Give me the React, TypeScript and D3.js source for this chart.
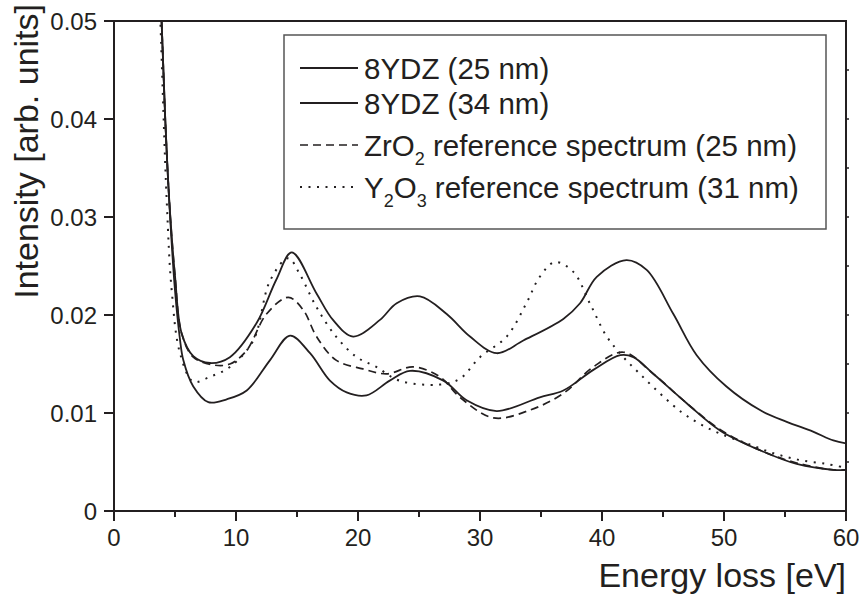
import React from "react";
import * as d3 from "d3";

// ---- Data ----
const energyA = [3.6, 3.9, 4.2, 4.53, 5.0, 5.55, 6.5, 7.87, 9.5, 11.7, 13.3, 14.57, 16.6, 17.95, 19.6, 21.8, 23.17, 25.08, 27.27, 29.18, 31.37, 33.55, 36.83, 38.2, 39.57, 42.0, 43.66, 45.85, 47.76, 50.2, 52.95, 55.14, 57.3, 58.96, 60];
const ydz34 = [0.058, 0.05, 0.04, 0.0317, 0.024, 0.0181, 0.0158, 0.0151, 0.0157, 0.0192, 0.0236, 0.0264, 0.0222, 0.0195, 0.0178, 0.0195, 0.0212, 0.0219, 0.0201, 0.0178, 0.0161, 0.0174, 0.0196, 0.0212, 0.0239, 0.0256, 0.0246, 0.0201, 0.0159, 0.0127, 0.0103, 0.0091, 0.0081, 0.0072, 0.0069];

const energyB = [3.6, 3.9, 4.2, 4.53, 5.0, 5.4, 5.68, 6.5, 7.73, 9.24, 10.88, 12.79, 14.43, 16.07, 17.7, 19.07, 20.7, 22.6, 24.26, 27.0, 28.9, 31.37, 34.9, 36.83, 39.29, 41.5, 42.57, 44.2, 46.94, 49.7, 52.95, 55.96, 58.96, 60];
const ydz25 = [0.058, 0.05, 0.04, 0.0315, 0.0225, 0.0176, 0.0154, 0.0127, 0.0111, 0.0114, 0.0123, 0.0154, 0.0179, 0.0161, 0.0133, 0.0121, 0.0118, 0.0133, 0.0143, 0.0133, 0.0113, 0.0102, 0.0116, 0.0123, 0.0144, 0.0159, 0.0157, 0.014, 0.011, 0.0082, 0.0062, 0.0048, 0.0042, 0.0042];

const energyZr = [3.6, 3.9, 4.2, 4.53, 5.0, 5.55, 6.5, 8.14, 9.5, 10.88, 12.5, 14.29, 15.52, 16.6, 18.2, 20.4, 22.35, 24.53, 26.7, 28.36, 31.1, 34.1, 36.83, 39.29, 41.75, 44.2, 46.94, 49.7, 52.95, 55.96, 58.96, 60];
const zro2 = [0.058, 0.05, 0.04, 0.0317, 0.024, 0.0181, 0.0157, 0.0149, 0.015, 0.0164, 0.0201, 0.0218, 0.0205, 0.0178, 0.0154, 0.0145, 0.014, 0.0147, 0.0137, 0.0116, 0.0095, 0.0103, 0.012, 0.0147, 0.0162, 0.014, 0.011, 0.0083, 0.0062, 0.0049, 0.0042, 0.0042];

const energyY = [3.5, 3.8, 4.32, 4.73, 5.41, 6.5, 7.87, 9.5, 11.42, 12.79, 14.29, 15.25, 16.6, 18.2, 19.9, 21.5, 23.4, 26.7, 28.36, 30.0, 32.19, 33.8, 34.9, 36.15, 37.65, 39.0, 40.39, 41.75, 43.1, 44.75, 46.5, 48.0, 49.67, 51.86, 54.04, 56.2, 58.4, 60];
const y2o3 = [0.06, 0.05, 0.0317, 0.0225, 0.0161, 0.0132, 0.0137, 0.0147, 0.0174, 0.0235, 0.0258, 0.0241, 0.0208, 0.0178, 0.0157, 0.0147, 0.0133, 0.0129, 0.0135, 0.0157, 0.0178, 0.0212, 0.0239, 0.0254, 0.0244, 0.0212, 0.0178, 0.0157, 0.014, 0.012, 0.0101, 0.0089, 0.0079, 0.0069, 0.0059, 0.0052, 0.0048, 0.0044];

const xTicks = [0, 10, 20, 30, 40, 50, 60];
const xMinorTicks = [5, 15, 25, 35, 45, 55];
const yTicks = [0, 0.01, 0.02, 0.03, 0.04, 0.05];
const yTickLabels = ["0", "0.01", "0.02", "0.03", "0.04", "0.05"];
const yRightTicks = [0.005, 0.01, 0.015, 0.02, 0.025, 0.03, 0.035, 0.04, 0.045];

const W = 864, H = 601;
const L = 114, R = 846, T = 21, B = 511;
const INK = "#231f20";
const FONT = "'Liberation Sans', Arial, Helvetica, sans-serif";

export default function App() {
  const x = d3.scaleLinear().domain([0, 60]).range([L, R]);
  const y = d3.scaleLinear().domain([0, 0.05]).range([B, T]);

  const mk = (xs: number[], ys: number[]) =>
    d3.line<number>().x((_, i) => x(xs[i])).y((v) => y(v)).curve(d3.curveCatmullRom.alpha(0.5))(ys) || "";

  const series = [
    { d: mk(energyA, ydz34), dash: undefined as string | undefined, w: 1.8 },
    { d: mk(energyB, ydz25), dash: undefined, w: 1.8 },
    { d: mk(energyZr, zro2), dash: "8,5", w: 1.7 },
    { d: mk(energyY, y2o3), dash: "2,6.5", w: 2 },
  ];

  const legendX1 = 300, legendX2 = 358, textX = 364;
  const rows = [68, 103, 145, 187];
  const fs = 29.5, sub = 18, off = 10.5, sdy = 9;

  return (
    <svg width={W} height={H} style={{ position: "absolute", left: 0, top: 0, background: "#fff" }} fontFamily={FONT}>
      <defs>
        <clipPath id="plot">
          <rect x={L} y={T} width={R - L} height={B - T} />
        </clipPath>
      </defs>
      <rect x={0} y={0} width={W} height={H} fill="#fff" />
      <g clipPath="url(#plot)" fill="none" stroke={INK}>
        {series.map((s, i) => (
          <path key={i} d={s.d} strokeWidth={s.w} strokeDasharray={s.dash} strokeLinejoin="round" />
        ))}
      </g>
      {/* frame */}
      <rect x={L} y={T} width={R - L} height={B - T} fill="none" stroke={INK} strokeWidth={2} />
      {/* x ticks */}
      {xTicks.map((t) => (
        <g key={"xt" + t}>
          <line x1={x(t)} x2={x(t)} y1={B} y2={B + 10} stroke={INK} strokeWidth={2} />
          <text x={x(t)} y={546} textAnchor="middle" fontSize={24} fill={INK}>{t}</text>
        </g>
      ))}
      {xMinorTicks.map((t) => (
        <line key={"xm" + t} x1={x(t)} x2={x(t)} y1={B} y2={B + 6} stroke={INK} strokeWidth={2} />
      ))}
      {/* y ticks */}
      {yTicks.map((t, i) => (
        <g key={"yt" + t}>
          <line x1={L - 10} x2={L} y1={y(t)} y2={y(t)} stroke={INK} strokeWidth={2} />
          <text x={97} y={y(t) + 8.5} textAnchor="end" fontSize={24} fill={INK}>{yTickLabels[i]}</text>
        </g>
      ))}
      {yRightTicks.map((t) => (
        <line key={"yr" + t} x1={R} x2={R + 3} y1={y(t)} y2={y(t)} stroke={INK} strokeWidth={1.5} />
      ))}
      {/* axis titles */}
      <text x={R} y={587} textAnchor="end" fontSize={34} fill={INK}>Energy loss [eV]</text>
      <text transform={`translate(38,4) rotate(-90)`} textAnchor="end" fontSize={34} fill={INK}>Intensity [arb. units]</text>
      {/* legend */}
      <rect x={284} y={35} width={542} height={194} fill="#fff" stroke="#555" strokeWidth={1.5} />
      {series.map((s, i) => (
        <line key={"ll" + i} x1={legendX1} x2={legendX2} y1={rows[i]} y2={rows[i]} stroke={INK} strokeWidth={s.w} strokeDasharray={s.dash} />
      ))}
      <text x={textX} y={rows[0] + off} fontSize={fs} fill={INK}>8YDZ (25 nm)</text>
      <text x={textX} y={rows[1] + off} fontSize={fs} fill={INK}>8YDZ (34 nm)</text>
      <text x={textX} y={rows[2] + off} fontSize={fs} fill={INK}>
        ZrO<tspan fontSize={sub} dy={sdy}>2</tspan><tspan dy={-sdy}> reference spectrum (25 nm)</tspan>
      </text>
      <text x={textX} y={rows[3] + off} fontSize={fs} fill={INK}>
        Y<tspan fontSize={sub} dy={sdy}>2</tspan><tspan dy={-sdy}>O</tspan><tspan fontSize={sub} dy={sdy}>3</tspan><tspan dy={-sdy}> reference spectrum (31 nm)</tspan>
      </text>
    </svg>
  );
}
